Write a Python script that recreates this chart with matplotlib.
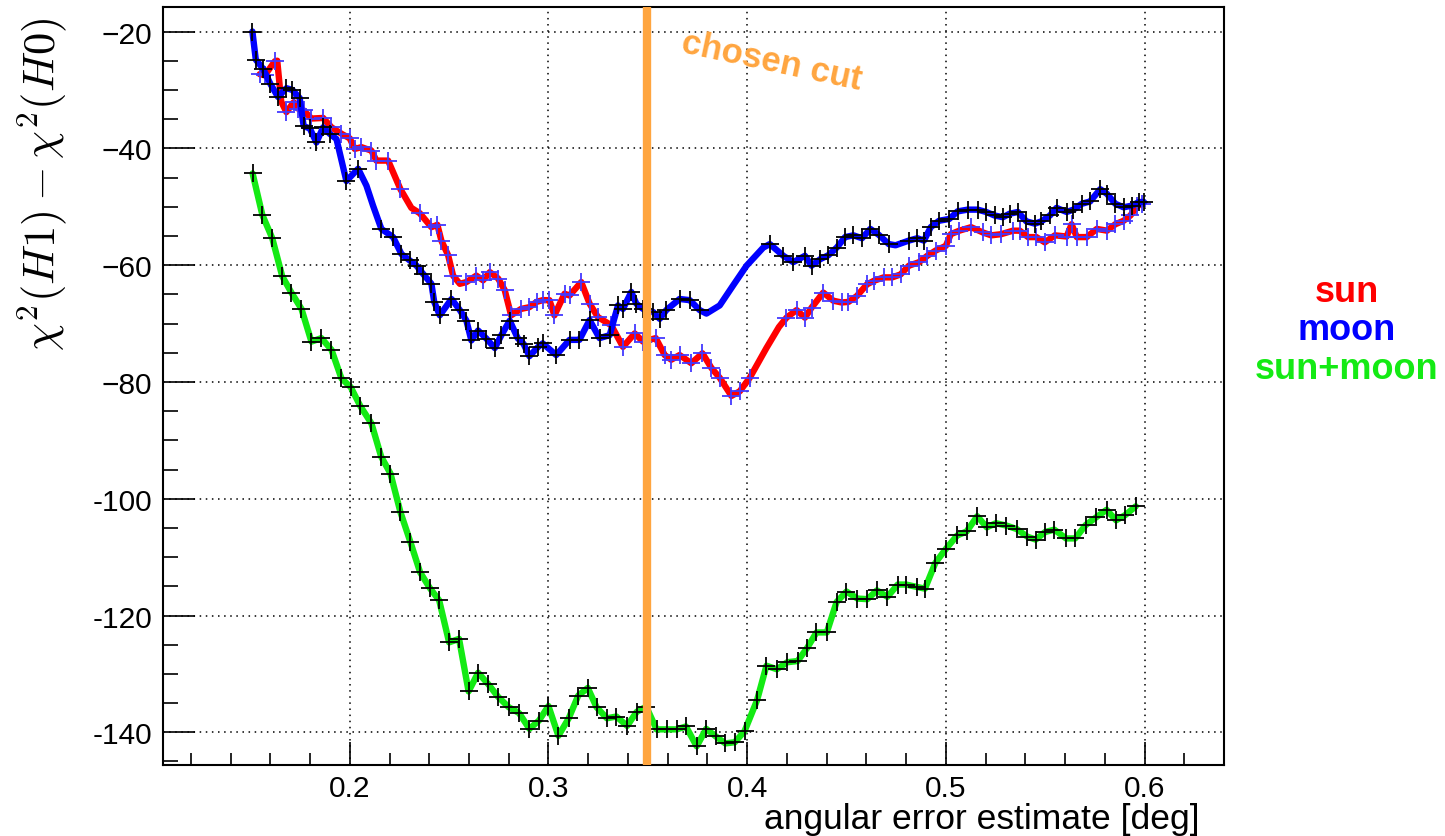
import matplotlib
matplotlib.use("Agg")
import matplotlib.pyplot as plt
from matplotlib.ticker import MultipleLocator, FixedLocator, FixedFormatter

plt.rcParams["font.family"] = ["Liberation Sans", "DejaVu Sans"]
plt.rcParams["mathtext.fontset"] = "cm"

# sun: red curve, scan points marked with blue crosses
sun_x = [0.1547, 0.1572, 0.1623, 0.1635, 0.1655, 0.1681, 0.1718, 0.1740, 0.1768, 0.1807,
         0.1866, 0.1908, 0.1958, 0.2000, 0.2025, 0.2059, 0.2109, 0.2134, 0.2193, 0.2255,
         0.2310, 0.2352, 0.2411, 0.2441, 0.2461, 0.2495, 0.2520, 0.2554, 0.2587, 0.2637,
         0.2671, 0.2705, 0.2747, 0.2780, 0.2812, 0.2862, 0.2904, 0.2940, 0.2971, 0.3005,
         0.3030, 0.3081, 0.3106, 0.3165, 0.3207, 0.3249, 0.3316, 0.3375, 0.3434, 0.3476,
         0.3540, 0.3585, 0.3618, 0.3660, 0.3719, 0.3775, 0.3820, 0.3862, 0.3921, 0.3963,
         0.4013, 0.4097, 0.4160, 0.4198, 0.4249, 0.4291, 0.4324, 0.4383, 0.4434, 0.4476,
         0.4510, 0.4552, 0.4603, 0.4637, 0.4687, 0.4730, 0.4772, 0.4814, 0.4865, 0.4907,
         0.4949, 0.5000, 0.5025, 0.5068, 0.5127, 0.5186, 0.5228, 0.5279, 0.5338, 0.5372,
         0.5414, 0.5456, 0.5498, 0.5549, 0.5608, 0.5633, 0.5659, 0.5709, 0.5760, 0.5811,
         0.5853, 0.5895, 0.5929, 0.5963, 0.5988]
sun_y = [-27.3, -27.5, -25.1, -25.0, -32.0, -33.8, -32.1, -33.2, -33.5, -34.9,
         -34.8, -36.4, -37.5, -38.3, -40.1, -39.8, -40.4, -42.1, -42.1, -47.0,
         -50.2, -51.1, -53.5, -53.1, -55.8, -58.3, -61.8, -63.2, -62.9, -61.8,
         -62.6, -61.2, -62.3, -64.3, -68.6, -67.5, -67.2, -66.3, -66.0, -66.0,
         -68.6, -64.9, -65.2, -62.9, -66.6, -68.9, -70.3, -74.0, -71.7, -73.1,
         -72.5, -75.4, -76.2, -75.4, -76.8, -75.1, -77.6, -79.3, -82.4, -81.6,
         -79.3, -74.2, -70.6, -69.0, -67.7, -69.0, -67.3, -64.7, -66.1, -66.4,
         -66.3, -65.3, -63.3, -62.7, -62.1, -62.1, -61.6, -60.1, -59.5, -58.4,
         -57.5, -56.7, -54.7, -54.1, -53.5, -54.4, -54.9, -54.7, -54.1, -54.1,
         -55.2, -55.2, -56.1, -54.9, -55.1, -53.0, -55.2, -55.2, -53.8, -54.1,
         -53.0, -52.4, -51.5, -49.9, -49.5]
sun_unmarked = [3, 4, 20, 27, 61, 62]

# moon: blue curve, scan points marked with black crosses
moon_x = [0.1510, 0.1527, 0.1564, 0.1601, 0.1639, 0.1681, 0.1711, 0.1748, 0.1768, 0.1799,
          0.1832, 0.1866, 0.1899, 0.1933, 0.1983, 0.2042, 0.2084, 0.2117, 0.2159, 0.2218,
          0.2260, 0.2302, 0.2336, 0.2369, 0.2411, 0.2425, 0.2453, 0.2512, 0.2554, 0.2587,
          0.2612, 0.2646, 0.2688, 0.2730, 0.2763, 0.2805, 0.2845, 0.2875, 0.2904, 0.2948,
          0.2971, 0.3039, 0.3106, 0.3156, 0.3207, 0.3257, 0.3308, 0.3350, 0.3375, 0.3417,
          0.3442, 0.3476, 0.3526, 0.3560, 0.3593, 0.3660, 0.3711, 0.3761, 0.3795, 0.3862,
          0.3929, 0.3997, 0.4081, 0.4114, 0.4182, 0.4232, 0.4291, 0.4324, 0.4367, 0.4409,
          0.4451, 0.4493, 0.4535, 0.4578, 0.4620, 0.4662, 0.4713, 0.4747, 0.4814, 0.4856,
          0.4890, 0.4924, 0.4966, 0.5017, 0.5059, 0.5110, 0.5160, 0.5203, 0.5245, 0.5287,
          0.5321, 0.5363, 0.5405, 0.5448, 0.5481, 0.5524, 0.5557, 0.5608, 0.5642, 0.5684,
          0.5726, 0.5777, 0.5811, 0.5853, 0.5895, 0.5938, 0.5971, 0.5997]
moon_y = [-20.0, -24.8, -26.4, -29.0, -31.2, -29.7, -30.0, -31.4, -36.2, -36.6,
          -39.0, -36.4, -37.5, -38.4, -45.6, -43.5, -46.4, -49.8, -53.8, -55.2,
          -58.1, -59.2, -60.1, -61.5, -63.2, -66.3, -68.6, -65.8, -67.7, -69.5,
          -72.9, -71.2, -72.6, -74.2, -72.0, -69.5, -72.5, -73.5, -75.6, -74.0,
          -73.4, -75.4, -72.8, -72.8, -69.4, -72.5, -72.0, -66.9, -67.5, -64.6,
          -66.6, -67.5, -68.0, -69.2, -67.7, -65.8, -66.0, -67.7, -68.3, -66.9,
          -63.5, -60.1, -57.0, -56.4, -58.4, -59.5, -58.4, -60.1, -59.0, -58.3,
          -57.0, -55.2, -54.9, -55.4, -53.8, -54.8, -56.4, -56.6, -55.8, -55.4,
          -55.8, -53.5, -52.4, -52.1, -50.8, -50.5, -50.5, -50.9, -51.5, -51.8,
          -51.2, -50.9, -52.5, -52.9, -52.5, -51.5, -50.2, -50.9, -50.5, -49.5,
          -49.1, -47.0, -47.8, -49.5, -50.1, -49.8, -49.2, -49.2]
moon_unmarked = [13, 16, 17, 58, 59, 60, 61, 62, 77]

# sun+moon: green curve, every point marked
both_x = [0.1511, 0.1560, 0.1610, 0.1660, 0.1706, 0.1757, 0.1807, 0.1857, 0.1908, 0.1958,
          0.2005, 0.2054, 0.2109, 0.2158, 0.2205, 0.2255, 0.2305, 0.2354, 0.2403, 0.2450,
          0.2500, 0.2550, 0.2598, 0.2646, 0.2698, 0.2746, 0.2800, 0.2852, 0.2904, 0.2952,
          0.3000, 0.3050, 0.3102, 0.3150, 0.3198, 0.3242, 0.3294, 0.3342, 0.3396, 0.3444,
          0.3492, 0.3544, 0.3596, 0.3646, 0.3692, 0.3746, 0.3794, 0.3842, 0.3890, 0.3938,
          0.3987, 0.4050, 0.4097, 0.4149, 0.4202, 0.4254, 0.4303, 0.4349, 0.4401, 0.4450,
          0.4500, 0.4555, 0.4605, 0.4653, 0.4706, 0.4758, 0.4800, 0.4853, 0.4895, 0.4947,
          0.5000, 0.5057, 0.5105, 0.5158, 0.5206, 0.5252, 0.5305, 0.5357, 0.5410, 0.5452,
          0.5500, 0.5546, 0.5605, 0.5651, 0.5704, 0.5756, 0.5809, 0.5857, 0.5903, 0.5956]
both_y = [-44.3, -51.4, -55.4, -61.9, -64.7, -67.5, -73.1, -72.5, -74.5, -79.4,
          -80.9, -84.2, -87.1, -92.8, -95.7, -102.3, -107.4, -112.6, -115.3, -117.4,
          -124.6, -124.0, -133.0, -129.8, -131.8, -133.9, -135.7, -136.7, -139.4, -138.0,
          -135.5, -140.6, -137.6, -133.7, -132.4, -135.7, -137.6, -137.3, -138.9, -136.5,
          -135.6, -139.5, -139.5, -139.5, -139.0, -142.4, -139.4, -140.7, -141.9, -141.7,
          -139.8, -134.5, -128.6, -129.2, -128.0, -127.8, -125.5, -122.9, -122.9, -117.7,
          -115.9, -117.1, -117.2, -115.7, -116.8, -114.7, -114.7, -115.1, -115.4, -111.0,
          -108.6, -106.3, -105.6, -103.0, -104.9, -104.2, -104.6, -105.2, -106.5, -107.0,
          -105.7, -105.3, -106.8, -106.8, -104.5, -103.2, -101.9, -103.7, -102.8, -101.3]

cut_value = 0.3495
x_range = (0.106, 0.640)
y_range = (-145.6, -15.8)
y_ticks = [-140, -120, -100, -80, -60, -40, -20]
y_ticklabels = ["-140", "-120", "-100", "\u221280", "\u221260", "\u221240", "\u221220"]
x_ticks = [0.2, 0.3, 0.4, 0.5, 0.6]
x_ticklabels = ["0.2", "0.3", "0.4", "0.5", "0.6"]
legend_names = ["sun", "moon", "sun+moon"]

RED, BLUE, GREEN = "#ff0000", "#0000ff", "#14ea14"
ORANGE = "#ffa53f"
MARK_SUN = "#4338ff"


def marked(n, skip):
    return [i for i in range(n) if i not in skip]


fig = plt.figure(figsize=(14.45, 8.37), dpi=100)
W, H = 1445.0, 837.0
ax = fig.add_axes([163 / W, 1 - 766 / H, (1224 - 163) / W, (766 - 8) / H])

line_kw = dict(lw=4.6, marker="+", ms=12.5, mew=1.3, solid_capstyle="round",
               solid_joinstyle="round")
ax.plot(sun_x, sun_y, color=RED, mec=MARK_SUN,
        markevery=marked(len(sun_x), sun_unmarked), **line_kw)
ax.plot(moon_x, moon_y, color=BLUE, mec="black",
        markevery=marked(len(moon_x), moon_unmarked), **line_kw)
ax.plot(both_x, both_y, color=GREEN, mec="black", **line_kw)

ax.axvline(cut_value, color=ORANGE, lw=6.0, zorder=5)

ax.set_xlim(*x_range)
ax.set_ylim(*y_range)
ax.xaxis.set_major_locator(FixedLocator(x_ticks))
ax.xaxis.set_major_formatter(FixedFormatter(x_ticklabels))
ax.xaxis.set_minor_locator(MultipleLocator(0.02))
ax.yaxis.set_major_locator(FixedLocator(y_ticks))
ax.yaxis.set_major_formatter(FixedFormatter(y_ticklabels))
ax.yaxis.set_minor_locator(MultipleLocator(5))

ax.tick_params(which="both", direction="in", top=False, right=False, width=1.2,
               color="black")
ax.tick_params(axis="x", which="major", length=16.5, pad=6.5, labelsize=21.5)
ax.tick_params(axis="x", which="minor", length=8.5)
ax.tick_params(axis="y", which="major", length=23, pad=8, labelsize=21.5)
ax.tick_params(axis="y", which="minor", length=11)
for s in ax.spines.values():
    s.set_linewidth(1.5)

ax.grid(True, which="major", color="black", lw=1.1, linestyle=(0, (1, 3)))
ax.set_axisbelow(True)

fig.text(1200 / W, 1 - 836.5 / H, "angular error estimate [deg]", fontsize=25.5,
         ha="right", va="bottom")
fig.text(42 / W, 1 - 184 / H, r"$\chi^2(H1) - \chi^2(H0)$", fontsize=32,
         rotation=90, ha="center", va="center")

fig.text(772 / W, 1 - 62 / H, "chosen cut", color=ORANGE, fontsize=25,
         fontweight="bold", rotation=-12, ha="center", va="center",
         rotation_mode="anchor")

for name, col, ypx in zip(legend_names, [RED, BLUE, GREEN], [293, 331, 370]):
    fig.text(1347 / W, 1 - ypx / H, name, color=col, fontsize=26,
             fontweight="bold", ha="center", va="center")

fig.savefig("out.png", dpi=100)
